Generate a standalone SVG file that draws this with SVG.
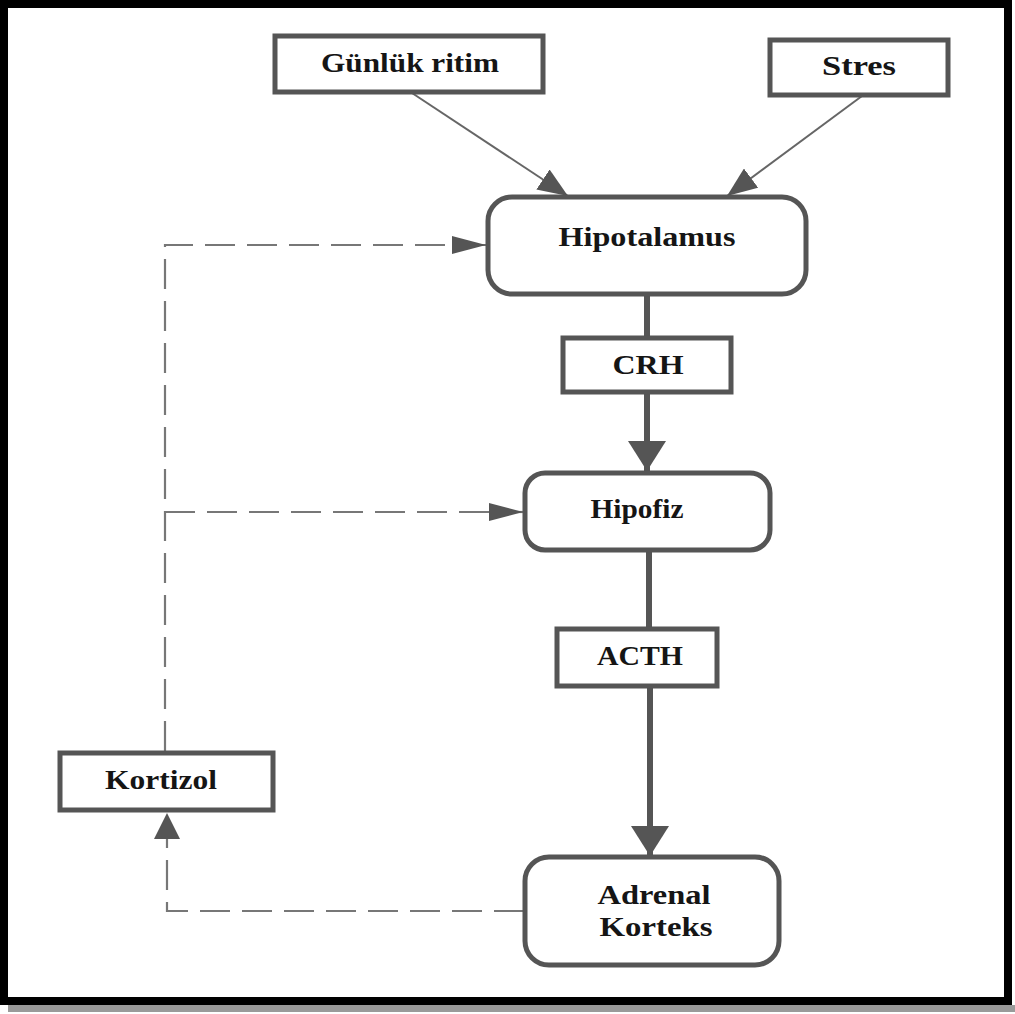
<svg xmlns="http://www.w3.org/2000/svg" width="1015" height="1014" viewBox="0 0 1015 1014">
<style>
.box{fill:#fff;stroke:#555;stroke-width:5}
.t{font-family:"Liberation Serif","Times New Roman",serif;font-weight:bold;font-size:27px;fill:#151515;text-anchor:middle}
.thin{fill:none;stroke:#666;stroke-width:2}
.thick{fill:none;stroke:#555;stroke-width:6}
.dash{fill:none;stroke:#777;stroke-width:2.2;stroke-dasharray:30 12}
</style>
<defs>
<marker id="aThick" markerUnits="userSpaceOnUse" viewBox="0 0 30 38" refX="30" refY="19" markerWidth="30" markerHeight="38" orient="auto"><path d="M0,0 L30,19 L0,38 Z" fill="#555"/></marker>
<marker id="aThin" markerUnits="userSpaceOnUse" viewBox="0 0 30 24" refX="30" refY="12" markerWidth="30" markerHeight="24" orient="auto"><path d="M0,0 L30,12 L0,24 Z" fill="#555"/></marker>
<marker id="aDash" markerUnits="userSpaceOnUse" viewBox="0 0 34 18" refX="34" refY="9" markerWidth="34" markerHeight="18" orient="auto"><path d="M0,0 L34,9 L0,18 Z" fill="#555"/></marker>
<marker id="aDashUp" markerUnits="userSpaceOnUse" viewBox="0 0 26 26" refX="26" refY="13" markerWidth="26" markerHeight="26" orient="auto"><path d="M0,0 L26,13 L0,26 Z" fill="#555"/></marker>
</defs>
<rect x="0" y="0" width="1015" height="1014" fill="#fff"/>
<rect x="8" y="1005" width="1007" height="7" fill="#9a9a9a"/>
<rect x="4" y="4" width="1004" height="997" fill="none" stroke="#000" stroke-width="8"/>

<g id="connectors">
<path class="thin" d="M412,93 L568,196" marker-end="url(#aThin)"/>
<path class="thin" d="M862,96 L727,196" marker-end="url(#aThin)"/>
<path class="thick" d="M647,295 V336"/>
<path class="thick" d="M647,393 V471" marker-end="url(#aThick)"/>
<path class="thick" d="M649,552 V628"/>
<path class="thick" d="M650,687 V856" marker-end="url(#aThick)"/>
<path class="dash" d="M524,911 H167 V813" marker-end="url(#aDashUp)"/>
<path class="dash" d="M165,751 V245 H486" marker-end="url(#aDash)"/>
<path class="dash" d="M165,512 H523" marker-end="url(#aDash)"/>
</g>

<g id="gunluk"><rect class="box" x="275" y="36" width="268" height="56"/><text class="t" x="410" y="72" textLength="178" lengthAdjust="spacingAndGlyphs">Günlük ritim</text></g>
<g id="stres"><rect class="box" x="770" y="40" width="178" height="55"/><text class="t" x="859" y="75" textLength="74" lengthAdjust="spacingAndGlyphs">Stres</text></g>
<g id="hipotalamus"><rect class="box" x="488" y="197" width="318" height="97" rx="24"/><text class="t" x="647" y="246" textLength="177" lengthAdjust="spacingAndGlyphs">Hipotalamus</text></g>
<g id="crh"><rect class="box" x="563" y="338" width="168" height="54"/><text class="t" x="648" y="374" textLength="71" lengthAdjust="spacingAndGlyphs">CRH</text></g>
<g id="hipofiz"><rect class="box" x="525" y="473" width="245" height="77" rx="20"/><text class="t" x="637" y="518" textLength="93" lengthAdjust="spacingAndGlyphs">Hipofiz</text></g>
<g id="acth"><rect class="box" x="557" y="629" width="160" height="57"/><text class="t" x="640" y="665" textLength="86" lengthAdjust="spacingAndGlyphs">ACTH</text></g>
<g id="kortizol"><rect class="box" x="60" y="753" width="213" height="57"/><text class="t" x="161" y="789" textLength="112" lengthAdjust="spacingAndGlyphs">Kortizol</text></g>
<g id="adrenal"><rect class="box" x="525" y="857" width="254" height="108" rx="24"/><text class="t" x="654" y="904" textLength="113" lengthAdjust="spacingAndGlyphs">Adrenal</text><text class="t" x="656" y="936" textLength="113" lengthAdjust="spacingAndGlyphs">Korteks</text></g>
</svg>
